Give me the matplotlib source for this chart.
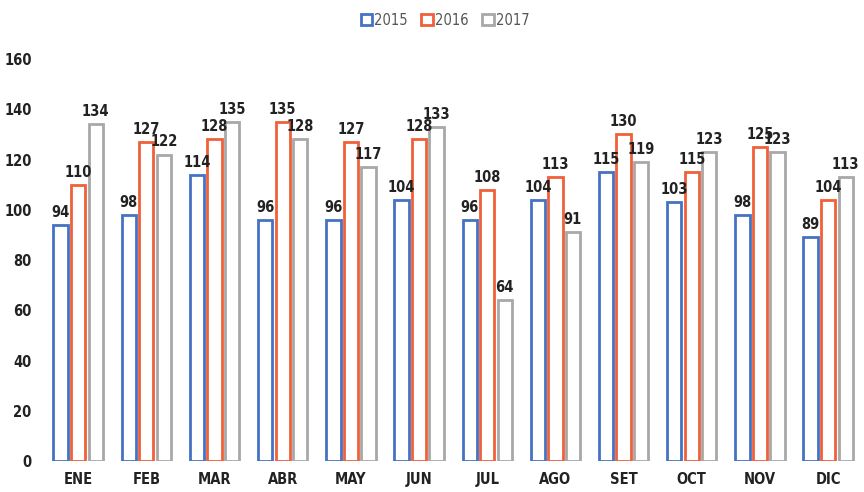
import matplotlib
matplotlib.use("Agg")
import matplotlib.pyplot as plt
import numpy as np

meses = ["ENE", "FEB", "MAR", "ABR", "MAY", "JUN", "JUL", "AGO", "SET", "OCT", "NOV", "DIC"]
v2015 = [94, 98, 114, 96, 96, 104, 96, 104, 115, 103, 98, 89]
v2016 = [110, 127, 128, 135, 127, 128, 108, 113, 130, 115, 125, 104]
v2017 = [134, 122, 135, 128, 117, 133, 64, 91, 119, 123, 123, 113]

plt.rcParams['font.family'] = ['DejaVu Sans']
plt.rcParams['font.stretch'] = 'condensed'

fig = plt.figure(figsize=(8.64, 4.92), dpi=100)
ax = fig.add_axes([0.051, 0.063, 0.947, 0.817])

x = np.arange(len(meses))
w = 0.21
off = 0.257
series = [("2015", v2015, "#4472C4"), ("2016", v2016, "#F0603A"), ("2017", v2017, "#A8A8A8")]
for i, (name, vals, col) in enumerate(series):
    pos = x + (i - 1) * off
    ax.bar(pos, vals, width=w, facecolor="white", edgecolor=col, linewidth=2.0, label=name)
    for p, v in zip(pos, vals):
        ax.text(p, v + 2, str(v), ha="center", va="bottom", fontsize=10.5,
                fontweight="bold", color="#222222")

ax.set_xlim(-0.5, 11.5)
ax.set_ylim(0, 160)
ax.set_yticks(range(0, 161, 20))
ax.set_xticks(x)
ax.set_xticklabels(meses)
for s in ax.spines.values():
    s.set_visible(False)
ax.tick_params(length=0, labelsize=10.5, colors="#222222")
ax.tick_params(axis="y", pad=9)
ax.tick_params(axis="x", pad=8)
for t in ax.get_xticklabels() + ax.get_yticklabels():
    t.set_fontweight("bold")

leg = ax.legend(loc="center", bbox_to_anchor=(0.49, 1.097), ncol=3, frameon=False,
                fontsize=10.5, handlelength=0.8, handleheight=0.8, handletextpad=0.15,
                columnspacing=0.9, labelcolor="#555555")

fig.savefig("out.png", dpi=100)
